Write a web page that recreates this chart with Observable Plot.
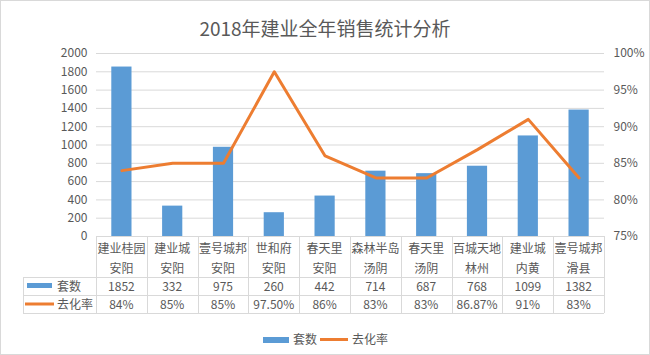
<!DOCTYPE html>
<html><head><meta charset="utf-8">
<script src="https://cdn.jsdelivr.net/npm/d3@7"></script>
<script src="https://cdn.jsdelivr.net/npm/@observablehq/plot@0.6"></script>
<style>
html,body{margin:0;padding:0;background:#fff;}
#wrap{position:relative;width:650px;height:355px;overflow:hidden;font-family:"Noto Sans CJK SC",sans-serif;color:#595959;background:#fff;}
#frame{position:absolute;left:0;top:0;width:650px;height:355px;box-sizing:border-box;border:1px solid #d9d9d9;pointer-events:none;}
#title{position:absolute;left:0;right:0;top:18px;text-align:center;font-size:19px;line-height:20px;white-space:nowrap;}
#chart{position:absolute;left:0;top:0;}
#legend{position:absolute;top:331px;left:0;width:650px;height:16px;font-size:12px;line-height:16px;}
#legend span{position:absolute;}
</style></head>
<body>
<div id="wrap">
  <div id="chart"></div>
  <div id="title">2018年建业全年销售统计分析</div>
  <div id="legend"></div>
  <div id="frame"></div>
</div>
<script>
const projects = ["建业桂园","建业城","壹号城邦","世和府","春天里","森林半岛","春天里","百城天地","建业城","壹号城邦"];
const cities = ["安阳","安阳","安阳","安阳","安阳","汤阴","汤阴","林州","内黄","滑县"];
const units = [1852,332,975,260,442,714,687,768,1099,1382];
const rates = [84,85,85,97.5,86,83,83,86.87,91,83];
const rateLabels = ["84%","85%","85%","97.50%","86%","83%","83%","86.87%","91%","83%"];
const leftTicks = [0,200,400,600,800,1000,1200,1400,1600,1800,2000];
const rightTicks = [75,80,85,90,95,100];
const seriesNames = ["套数","去化率"];
const barColor = "#5B9BD5";
const lineColor = "#ED7D31";
const textColor = "#595959";
const gridColor = "#d9d9d9";

const keys = projects.map((p,i) => p + "|" + cities[i]);
const data = keys.map((k,i) => ({key:k, project:projects[i], city:cities[i], units:units[i], rate:rates[i], rateLabel:rateLabels[i]}));
// secondary axis (75%–100%) mapped onto the primary 0–2000 range
const rMin = 75, rMax = 100, yMax = 2000;
const toY = r => (r - rMin) / (rMax - rMin) * yMax;

function table(index, scales, values, dimensions) {
  const x = scales.x;
  const bw = x.bandwidth();
  const {width, height, marginLeft, marginRight, marginBottom} = dimensions;
  const top = height - marginBottom;
  const right = width - marginRight;
  const left = marginLeft - 73;
  const rows = [top + 41, top + 59, top + 77];
  const g = d3.create("svg:g");
  const lines = g.append("g").attr("stroke", gridColor).attr("stroke-width", 1).attr("shape-rendering","crispEdges");
  for (const k of keys) {
    const xx = Math.round(x(k)) + 0.5;
    lines.append("line").attr("x1", xx).attr("x2", xx).attr("y1", top).attr("y2", rows[2]);
  }
  lines.append("line").attr("x1", Math.round(right)+0.5).attr("x2", Math.round(right)+0.5).attr("y1", top).attr("y2", rows[2]);
  lines.append("line").attr("x1", left+0.5).attr("x2", left+0.5).attr("y1", rows[0]).attr("y2", rows[2]);
  for (const r of rows) lines.append("line").attr("x1", left).attr("x2", right).attr("y1", r+0.5).attr("y2", r+0.5);
  const t = g.append("g").attr("fill", textColor).attr("font-size", 12).attr("font-family", "Noto Sans CJK SC")
    .attr("text-anchor", "middle").attr("dominant-baseline", "central");
  data.forEach(d => {
    const cx = x(d.key) + bw / 2;
    t.append("text").attr("x", cx).attr("y", top + 11).text(d.project);
    t.append("text").attr("x", cx).attr("y", top + 31).text(d.city);
    t.append("text").attr("x", cx).attr("y", top + 49).text(d.units);
    t.append("text").attr("x", cx).attr("y", top + 67).text(d.rateLabel);
  });
  // legend keys in table
  g.append("rect").attr("x", left + 4).attr("y", top + 47).attr("width", 25).attr("height", 5).attr("fill", barColor);
  g.append("line").attr("x1", left + 2).attr("x2", left + 31).attr("y1", top + 68).attr("y2", top + 68)
    .attr("stroke", lineColor).attr("stroke-width", 3);
  t.append("text").attr("x", left + 34).attr("y", top + 49).attr("text-anchor", "start").text(seriesNames[0]);
  t.append("text").attr("x", left + 34).attr("y", top + 67).attr("text-anchor", "start").text(seriesNames[1]);
  return g.node();
}

const plot = Plot.plot({
  width: 650,
  height: 355,
  marginTop: 53,
  marginBottom: 119,
  marginLeft: 96,
  marginRight: 46,
  style: {fontFamily: "Noto Sans CJK SC", fontSize: "12px", color: textColor, background: "transparent", overflow: "visible"},
  x: {domain: keys, padding: 0, round: false, axis: null},
  y: {domain: [0, yMax], axis: null},
  marks: [
    Plot.ruleY(leftTicks, {y: d => d, stroke: gridColor, strokeWidth: 1}),
    Plot.barY(data, {x: "key", y: "units", fill: barColor, insetLeft: 15.3, insetRight: 15.3}),
    Plot.line(data, {x: "key", y: d => toY(d.rate), stroke: lineColor, strokeWidth: 3, strokeLinejoin: "round", strokeLinecap: "round"}),
    Plot.text(leftTicks, {y: d => d, text: d => String(d), frameAnchor: "left", textAnchor: "end", dx: -9, fill: textColor, fontSize: 12}),
    Plot.text(rightTicks, {y: d => toY(d), text: d => d + "%", frameAnchor: "right", textAnchor: "start", dx: 9, fill: textColor, fontSize: 12}),
    table
  ]
});
document.getElementById("chart").appendChild(plot);

// bottom legend
const legend = document.getElementById("legend");
legend.innerHTML =
  `<span style="left:263px;top:6px;width:26px;height:6px;background:${barColor}"></span>` +
  `<span style="left:293px;top:0">${seriesNames[0]}</span>` +
  `<span style="left:320px;top:7px;width:28px;height:3px;background:${lineColor}"></span>` +
  `<span style="left:352px;top:0">${seriesNames[1]}</span>`;
</script>
</body></html>
